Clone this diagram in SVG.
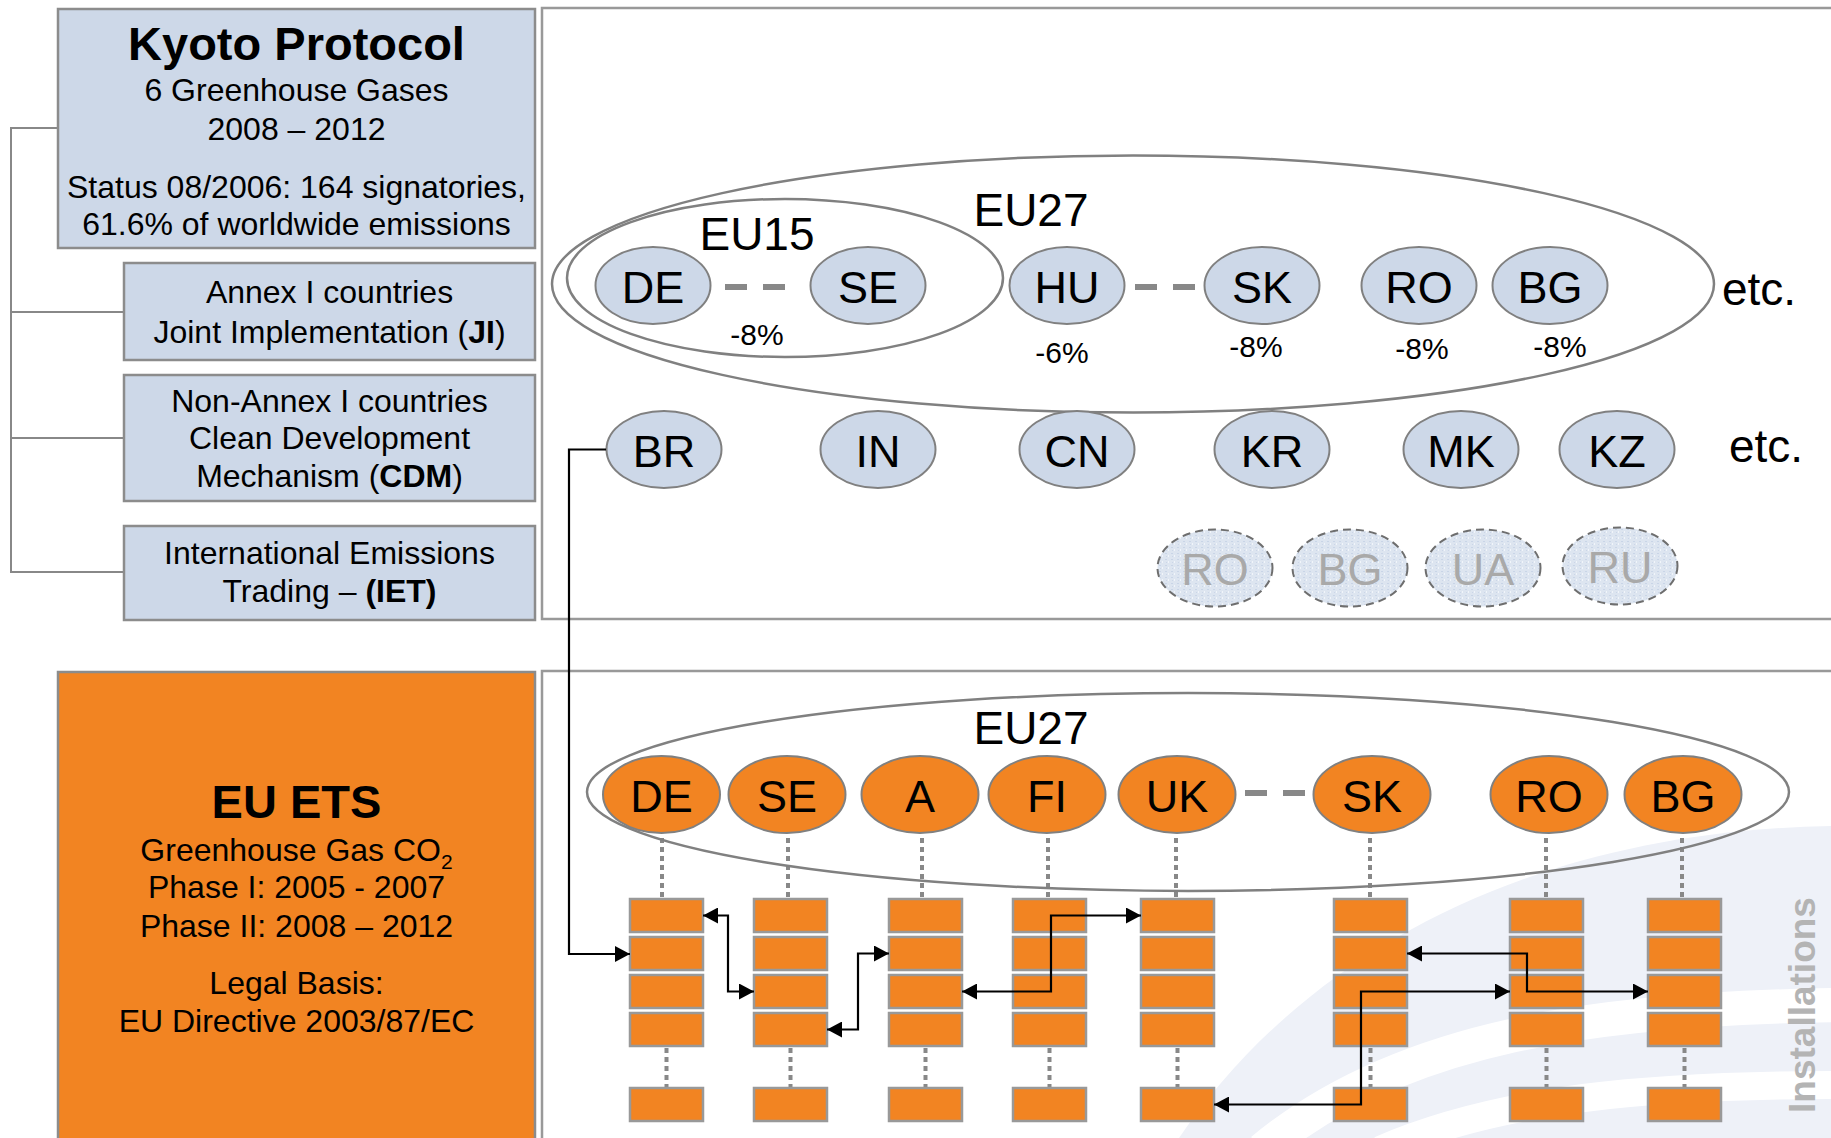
<svg xmlns="http://www.w3.org/2000/svg" width="1831" height="1138" viewBox="0 0 1831 1138">
<defs>
<style>
text{font-family:"Liberation Sans",Arial,sans-serif;fill:#000}
.box{fill:#CDD8E8;stroke:#8C8C8C;stroke-width:2.5}
.ets{fill:#F28422;stroke:#8C8C8C;stroke-width:2.5}
.panel{fill:none;stroke:#999;stroke-width:2.5}
.bn{fill:#CDD8E8;stroke:#808080;stroke-width:2}
.on{fill:#F28422;stroke:#808080;stroke-width:2}
.gn{fill:url(#tex);stroke:#6E6E6E;stroke-width:2;stroke-dasharray:8 5}
.ring{fill:none;stroke:#808080;stroke-width:2.5}
.inst{fill:#F28422;stroke:#999;stroke-width:2.5}
.nl{font-size:45px;text-anchor:middle}
.gl{font-size:45px;text-anchor:middle;fill:#A9A9A9}
.pc{font-size:30px;text-anchor:middle}
.bt{font-size:32px;text-anchor:middle}
.ttl{font-size:47px;font-weight:bold;text-anchor:middle}
.big{font-size:46px}
.dash{stroke:#888;stroke-width:6;stroke-dasharray:22 16}
.dot{stroke:#888;stroke-width:4;stroke-dasharray:5 4}
.tree{fill:none;stroke:#888;stroke-width:2}
.arr{fill:none;stroke:#000;stroke-width:2.2}
</style>
<marker id="ah" viewBox="0 0 15 16" refX="15" refY="8" markerWidth="15" markerHeight="16" markerUnits="userSpaceOnUse" orient="auto-start-reverse"><path d="M0,0 L15,8 L0,16 z" fill="#000"/></marker>
<pattern id="tex" width="6" height="6" patternUnits="userSpaceOnUse"><rect width="6" height="6" fill="#DDE5F0"/><rect x="1" y="1" width="2" height="1" fill="#C9D5E7"/><rect x="4" y="3" width="1" height="2" fill="#F1F5FA"/><rect x="2" y="4" width="1" height="1" fill="#CBD6E8"/></pattern>
</defs>
<rect width="1831" height="1138" fill="#fff"/>

<g id="watermark">
<path d="M1179,1138 C1300,960 1520,832 1831,826 L1831,1138 Z" fill="#EEF1F8"/>
<path d="M1262,1150 C1400,1035 1600,1008 1840,1005" fill="none" stroke="#fff" stroke-width="34"/>
<path d="M1380,1150 C1500,1098 1650,1085 1840,1085" fill="none" stroke="#fff" stroke-width="28"/>
</g>

<g id="panels">
<rect class="panel" x="542" y="8" width="1300" height="611"/>
<rect class="panel" x="542" y="671" width="1300" height="480"/>
</g>

<g id="connectors">
<path class="tree" d="M58,128 H11 V572 H124 M11,312 H124 M11,438 H124"/>
<line class="dash" x1="725" y1="287" x2="785" y2="287"/>
<line class="dash" x1="1135" y1="287" x2="1195" y2="287"/>
<line class="dash" x1="1245" y1="793" x2="1305" y2="793"/>
<g id="dots">
<line class="dot" x1="662" y1="838" x2="662" y2="898"/>
<line class="dot" x1="788" y1="838" x2="788" y2="898"/>
<line class="dot" x1="922" y1="838" x2="922" y2="898"/>
<line class="dot" x1="1048" y1="838" x2="1048" y2="898"/>
<line class="dot" x1="1176" y1="838" x2="1176" y2="898"/>
<line class="dot" x1="1370" y1="838" x2="1370" y2="898"/>
<line class="dot" x1="1546" y1="838" x2="1546" y2="898"/>
<line class="dot" x1="1682" y1="838" x2="1682" y2="898"/>
<line class="dot" x1="666.5" y1="1048" x2="666.5" y2="1087"/>
<line class="dot" x1="790.5" y1="1048" x2="790.5" y2="1087"/>
<line class="dot" x1="925.5" y1="1048" x2="925.5" y2="1087"/>
<line class="dot" x1="1049.5" y1="1048" x2="1049.5" y2="1087"/>
<line class="dot" x1="1177.5" y1="1048" x2="1177.5" y2="1087"/>
<line class="dot" x1="1370.5" y1="1048" x2="1370.5" y2="1087"/>
<line class="dot" x1="1546.5" y1="1048" x2="1546.5" y2="1087"/>
<line class="dot" x1="1684.5" y1="1048" x2="1684.5" y2="1087"/>
</g>
</g>

<g id="kyoto">
<rect class="box" x="58" y="9" width="477" height="239"/>
<text class="ttl" x="296.5" y="60">Kyoto Protocol</text>
<text class="bt" x="296.5" y="101">6 Greenhouse Gases</text>
<text class="bt" x="296.5" y="140">2008 – 2012</text>
<text class="bt" x="296.5" y="198">Status 08/2006: 164 signatories,</text>
<text class="bt" x="296.5" y="235">61.6% of worldwide emissions</text>
</g>
<g id="ji">
<rect class="box" x="124" y="263" width="411" height="97"/>
<text class="bt" x="329.5" y="303">Annex I countries</text>
<text class="bt" x="329.5" y="343">Joint Implementation (<tspan font-weight="bold">JI</tspan>)</text>
</g>
<g id="cdm">
<rect class="box" x="124" y="375" width="411" height="126"/>
<text class="bt" x="329.5" y="412">Non-Annex I countries</text>
<text class="bt" x="329.5" y="449">Clean Development</text>
<text class="bt" x="329.5" y="487">Mechanism (<tspan font-weight="bold">CDM</tspan>)</text>
</g>
<g id="iet">
<rect class="box" x="124" y="526" width="411" height="94"/>
<text class="bt" x="329.5" y="564">International Emissions</text>
<text class="bt" x="329.5" y="602">Trading – <tspan font-weight="bold">(IET)</tspan></text>
</g>
<g id="euets">
<rect class="ets" x="58" y="672" width="477" height="480"/>
<text class="ttl" x="296.5" y="818">EU ETS</text>
<text class="bt" x="296.5" y="861">Greenhouse Gas CO<tspan font-size="21" dy="8">2</tspan></text>
<text class="bt" x="296.5" y="898">Phase I: 2005 - 2007</text>
<text class="bt" x="296.5" y="937">Phase II: 2008 – 2012</text>
<text class="bt" x="296.5" y="994">Legal Basis:</text>
<text class="bt" x="296.5" y="1032">EU Directive 2003/87/EC</text>
</g>

<g id="eu27-top">
<ellipse class="ring" cx="1133" cy="284" rx="581" ry="128.5"/>
<text class="big" x="1031" y="226" text-anchor="middle">EU27</text>
</g>
<g id="eu15">
<ellipse class="ring" cx="785" cy="278" rx="218" ry="79"/>
<text class="big" x="757" y="250" text-anchor="middle">EU15</text>
</g>

<g id="n-de"><ellipse class="bn" cx="653" cy="285.5" rx="57.5" ry="38.5"/><text class="nl" x="653" y="303">DE</text></g>
<g id="n-se"><ellipse class="bn" cx="868" cy="285.5" rx="57.5" ry="38.5"/><text class="nl" x="868" y="303">SE</text></g>
<g id="n-hu"><ellipse class="bn" cx="1067" cy="285.5" rx="57.5" ry="38.5"/><text class="nl" x="1067" y="303">HU</text></g>
<g id="n-sk"><ellipse class="bn" cx="1262" cy="285.5" rx="57.5" ry="38.5"/><text class="nl" x="1262" y="303">SK</text></g>
<g id="n-ro"><ellipse class="bn" cx="1419" cy="285.5" rx="57.5" ry="38.5"/><text class="nl" x="1419" y="303">RO</text></g>
<g id="n-bg"><ellipse class="bn" cx="1550" cy="285.5" rx="57.5" ry="38.5"/><text class="nl" x="1550" y="303">BG</text></g>
<g id="pct">
<text class="pc" x="757" y="345">-8%</text>
<text class="pc" x="1062" y="363">-6%</text>
<text class="pc" x="1256" y="357">-8%</text>
<text class="pc" x="1422" y="359">-8%</text>
<text class="pc" x="1560" y="357">-8%</text>
</g>
<text class="big" x="1722" y="305">etc.</text>

<g id="n-br"><ellipse class="bn" cx="664" cy="449.5" rx="57.5" ry="38.5"/><text class="nl" x="664" y="467">BR</text></g>
<g id="n-in"><ellipse class="bn" cx="878" cy="449.5" rx="57.5" ry="38.5"/><text class="nl" x="878" y="467">IN</text></g>
<g id="n-cn"><ellipse class="bn" cx="1077" cy="449.5" rx="57.5" ry="38.5"/><text class="nl" x="1077" y="467">CN</text></g>
<g id="n-kr"><ellipse class="bn" cx="1272" cy="449.5" rx="57.5" ry="38.5"/><text class="nl" x="1272" y="467">KR</text></g>
<g id="n-mk"><ellipse class="bn" cx="1461" cy="449.5" rx="57.5" ry="38.5"/><text class="nl" x="1461" y="467">MK</text></g>
<g id="n-kz"><ellipse class="bn" cx="1617" cy="449.5" rx="57.5" ry="38.5"/><text class="nl" x="1617" y="467">KZ</text></g>
<text class="big" x="1729" y="462">etc.</text>

<g id="g-ro"><ellipse class="gn" cx="1215" cy="568" rx="57.5" ry="38.5"/><text class="gl" x="1215" y="585">RO</text></g>
<g id="g-bg"><ellipse class="gn" cx="1350" cy="568" rx="57.5" ry="38.5"/><text class="gl" x="1350" y="585">BG</text></g>
<g id="g-ua"><ellipse class="gn" cx="1483" cy="568" rx="57.5" ry="38.5"/><text class="gl" x="1483" y="585">UA</text></g>
<g id="g-ru"><ellipse class="gn" cx="1620" cy="566" rx="57.5" ry="38.5"/><text class="gl" x="1620" y="583">RU</text></g>

<g id="eu27-ets">
<ellipse class="ring" cx="1188" cy="792" rx="601" ry="99"/>
<text class="big" x="1031" y="744" text-anchor="middle">EU27</text>
</g>
<g id="o-de"><ellipse class="on" cx="661.5" cy="794.5" rx="58.5" ry="38.5"/><text class="nl" x="661.5" y="812">DE</text></g>
<g id="o-se"><ellipse class="on" cx="787" cy="794.5" rx="58.5" ry="38.5"/><text class="nl" x="787" y="812">SE</text></g>
<g id="o-a"><ellipse class="on" cx="920" cy="794.5" rx="58.5" ry="38.5"/><text class="nl" x="920" y="812">A</text></g>
<g id="o-fi"><ellipse class="on" cx="1047" cy="794.5" rx="58.5" ry="38.5"/><text class="nl" x="1047" y="812">FI</text></g>
<g id="o-uk"><ellipse class="on" cx="1177" cy="794.5" rx="58.5" ry="38.5"/><text class="nl" x="1177" y="812">UK</text></g>
<g id="o-sk"><ellipse class="on" cx="1372" cy="794.5" rx="58.5" ry="38.5"/><text class="nl" x="1372" y="812">SK</text></g>
<g id="o-ro"><ellipse class="on" cx="1549" cy="794.5" rx="58.5" ry="38.5"/><text class="nl" x="1549" y="812">RO</text></g>
<g id="o-bg"><ellipse class="on" cx="1683" cy="794.5" rx="58.5" ry="38.5"/><text class="nl" x="1683" y="812">BG</text></g>

<g id="installations">
<g id="i-de"><rect class="inst" x="630" y="899" width="73" height="33"/><rect class="inst" x="630" y="937" width="73" height="33"/><rect class="inst" x="630" y="975" width="73" height="33"/><rect class="inst" x="630" y="1013" width="73" height="33"/><rect class="inst" x="630" y="1088" width="73" height="33"/></g>
<g id="i-se"><rect class="inst" x="754" y="899" width="73" height="33"/><rect class="inst" x="754" y="937" width="73" height="33"/><rect class="inst" x="754" y="975" width="73" height="33"/><rect class="inst" x="754" y="1013" width="73" height="33"/><rect class="inst" x="754" y="1088" width="73" height="33"/></g>
<g id="i-a"><rect class="inst" x="889" y="899" width="73" height="33"/><rect class="inst" x="889" y="937" width="73" height="33"/><rect class="inst" x="889" y="975" width="73" height="33"/><rect class="inst" x="889" y="1013" width="73" height="33"/><rect class="inst" x="889" y="1088" width="73" height="33"/></g>
<g id="i-fi"><rect class="inst" x="1013" y="899" width="73" height="33"/><rect class="inst" x="1013" y="937" width="73" height="33"/><rect class="inst" x="1013" y="975" width="73" height="33"/><rect class="inst" x="1013" y="1013" width="73" height="33"/><rect class="inst" x="1013" y="1088" width="73" height="33"/></g>
<g id="i-uk"><rect class="inst" x="1141" y="899" width="73" height="33"/><rect class="inst" x="1141" y="937" width="73" height="33"/><rect class="inst" x="1141" y="975" width="73" height="33"/><rect class="inst" x="1141" y="1013" width="73" height="33"/><rect class="inst" x="1141" y="1088" width="73" height="33"/></g>
<g id="i-sk"><rect class="inst" x="1334" y="899" width="73" height="33"/><rect class="inst" x="1334" y="937" width="73" height="33"/><rect class="inst" x="1334" y="975" width="73" height="33"/><rect class="inst" x="1334" y="1013" width="73" height="33"/><rect class="inst" x="1334" y="1088" width="73" height="33"/></g>
<g id="i-ro"><rect class="inst" x="1510" y="899" width="73" height="33"/><rect class="inst" x="1510" y="937" width="73" height="33"/><rect class="inst" x="1510" y="975" width="73" height="33"/><rect class="inst" x="1510" y="1013" width="73" height="33"/><rect class="inst" x="1510" y="1088" width="73" height="33"/></g>
<g id="i-bg"><rect class="inst" x="1648" y="899" width="73" height="33"/><rect class="inst" x="1648" y="937" width="73" height="33"/><rect class="inst" x="1648" y="975" width="73" height="33"/><rect class="inst" x="1648" y="1013" width="73" height="33"/><rect class="inst" x="1648" y="1088" width="73" height="33"/></g>
</g>
<text x="1815" y="1005" transform="rotate(-90 1815 1005)" text-anchor="middle" font-size="37" font-weight="bold" style="fill:#B4B4B4">Installations</text>

<g id="trades">
<path class="arr" d="M606,449.5 H569 V954 H630" marker-end="url(#ah)"/>
<path class="arr" d="M703,915.5 H728 V991.5 H754" marker-start="url(#ah)" marker-end="url(#ah)"/>
<path class="arr" d="M827,1029.5 H858 V953.5 H889" marker-start="url(#ah)" marker-end="url(#ah)"/>
<path class="arr" d="M962,991.5 H1051 V915.5 H1141" marker-start="url(#ah)" marker-end="url(#ah)"/>
<path class="arr" d="M1407,953.5 H1527 V991.5 H1648" marker-start="url(#ah)" marker-end="url(#ah)"/>
<path class="arr" d="M1214,1104.5 H1361 V991.5 H1510" marker-start="url(#ah)" marker-end="url(#ah)"/>
</g>
</svg>
